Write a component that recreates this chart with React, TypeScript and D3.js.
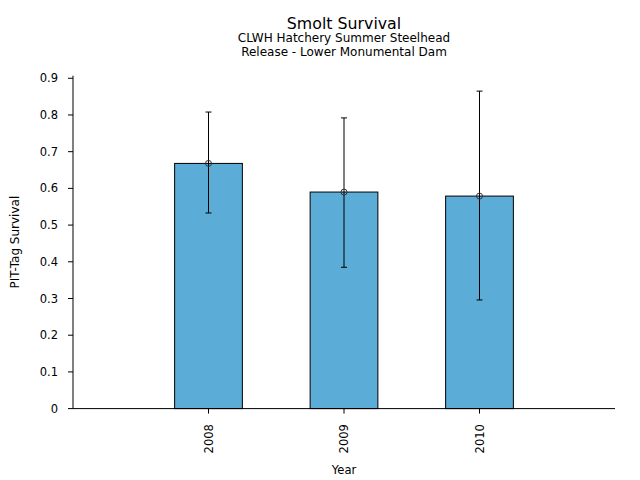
import * as d3 from "d3";
import React from "react";

const years = ["2008", "2009", "2010"];
const survival = [0.668, 0.59, 0.579];
const lowerCI = [0.533, 0.385, 0.296];
const upperCI = [0.808, 0.792, 0.865];
const yTicks = [0, 0.1, 0.2, 0.3, 0.4, 0.5, 0.6, 0.7, 0.8, 0.9];

const width = 640;
const height = 480;
const left = 73;
const right = 615;
const top = 75.7;
const bottom = 408.6;
const font = "DejaVu Sans, sans-serif";

export default function App() {
  const x = d3.scaleLinear().domain([-1, 3]).range([left, right]);
  const y = d3.scaleLinear().domain([0, 0.907]).range([bottom, top]);
  const barW = x(0.25) - x(0);

  return (
    <svg
      width={width}
      height={height}
      style={{ position: "absolute", left: 0, top: 0, fontFamily: font }}
    >
      <rect width={width} height={height} fill="white" />

      {/* titles */}
      <text x={344} y={28.5} textAnchor="middle" fontSize={15.8}>
        Smolt Survival
      </text>
      <text x={344} y={42} textAnchor="middle" fontSize={12}>
        CLWH Hatchery Summer Steelhead
      </text>
      <text x={344} y={56} textAnchor="middle" fontSize={12}>
        Release - Lower Monumental Dam
      </text>

      {/* bars */}
      {years.map((yr, i) => (
        <rect
          key={yr}
          x={x(i) - barW}
          y={y(survival[i])}
          width={barW * 2}
          height={y(0) - y(survival[i])}
          fill="#5bacd6"
          stroke="black"
          strokeWidth={1}
        />
      ))}

      {/* error bars */}
      {years.map((yr, i) => (
        <g key={"e" + yr} stroke="black" strokeWidth={1} fill="none">
          <line x1={x(i)} x2={x(i)} y1={y(lowerCI[i])} y2={y(upperCI[i])} />
          <line x1={x(i) - 3} x2={x(i) + 3} y1={y(lowerCI[i])} y2={y(lowerCI[i])} />
          <line x1={x(i) - 3} x2={x(i) + 3} y1={y(upperCI[i])} y2={y(upperCI[i])} />
          <circle cx={x(i)} cy={y(survival[i])} r={3} stroke="#333" />
        </g>
      ))}

      {/* spines */}
      <line x1={left} x2={left} y1={top} y2={bottom} stroke="black" />
      <line x1={left} x2={right} y1={bottom} y2={bottom} stroke="black" />

      {/* y ticks */}
      {yTicks.map((t) => (
        <g key={t}>
          <line x1={left - 5} x2={left} y1={y(t)} y2={y(t)} stroke="black" />
          <text
            x={left - 15}
            y={y(t)}
            dy="0.35em"
            textAnchor="end"
            fontSize={11.5}
          >
            {t === 0 ? "0" : d3.format(".1f")(t)}
          </text>
        </g>
      ))}

      {/* x ticks */}
      {years.map((yr, i) => (
        <g key={"t" + yr}>
          <line x1={x(i)} x2={x(i)} y1={bottom} y2={bottom + 5} stroke="black" />
          <text
            transform={`translate(${x(i)},${bottom + 15.5}) rotate(-90)`}
            dy="0.35em"
            textAnchor="end"
            fontSize={11.5}
          >
            {yr}
          </text>
        </g>
      ))}

      {/* axis labels */}
      <text x={(left + right) / 2} y={474} textAnchor="middle" fontSize={11.5}>
        Year
      </text>
      <text
        transform={`translate(19,${(top + bottom) / 2}) rotate(-90)`}
        textAnchor="middle"
        fontSize={12}
      >
        PIT-Tag Survival
      </text>
    </svg>
  );
}
